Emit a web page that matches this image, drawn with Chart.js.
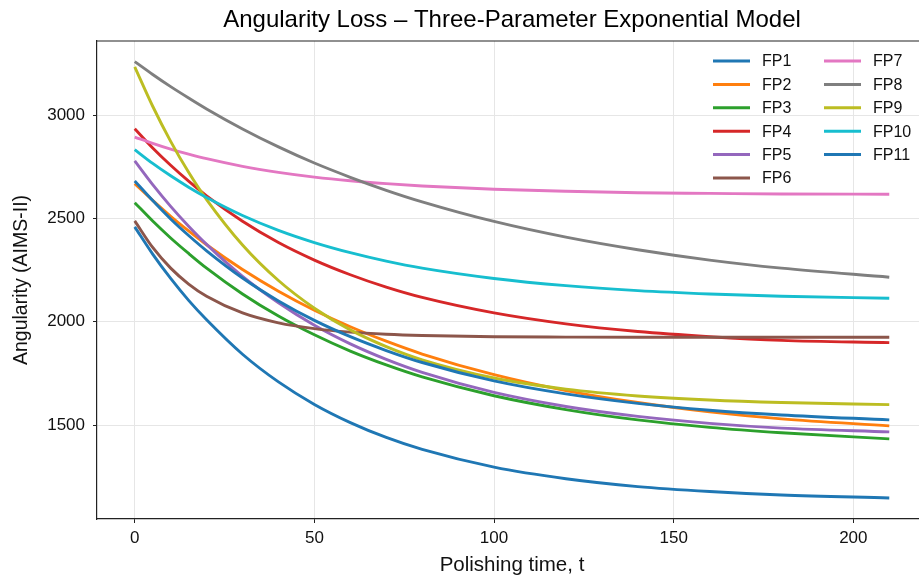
<!DOCTYPE html>
<html>
<head>
<meta charset="utf-8">
<script src="https://cdn.jsdelivr.net/npm/chart.js@4"></script>
<style>
html, body { margin: 0; padding: 0; overflow: hidden; background: #fff; width: 919px; height: 579px; }
#wrap { width: 940px; height: 579px; }
</style>
</head>
<body>
<div id="wrap"><canvas id="c" width="940" height="579"></canvas></div>
<script>
// ---- data ----
const timeValues = [0, 5, 10, 15, 20, 30, 40, 50, 60, 70, 80, 100, 120, 140, 160, 180, 210];
const seriesNames = ["FP1","FP2","FP3","FP4","FP5","FP6","FP7","FP8","FP9","FP10","FP11"];
const fp1  = [2460, 2328, 2210, 2104, 2010, 1843, 1709, 1600, 1512, 1440, 1382, 1296, 1240, 1202, 1178, 1161, 1147];
const fp2  = [2669, 2588, 2511, 2440, 2373, 2253, 2148, 2056, 1976, 1906, 1844, 1744, 1667, 1609, 1564, 1530, 1496];
const fp3  = [2577, 2488, 2406, 2331, 2260, 2135, 2028, 1937, 1858, 1791, 1733, 1642, 1575, 1525, 1489, 1463, 1433];
const fp4  = [2935, 2842, 2758, 2681, 2610, 2487, 2384, 2299, 2228, 2168, 2118, 2043, 1990, 1953, 1928, 1910, 1899];
const fp5  = [2779, 2664, 2559, 2463, 2375, 2220, 2092, 1983, 1893, 1818, 1755, 1658, 1590, 1542, 1508, 1485, 1467];
const fp6  = [2489, 2360, 2260, 2183, 2124, 2043, 1995, 1967, 1950, 1940, 1934, 1928, 1926, 1925, 1925, 1925, 1925];
const fp7  = [2895, 2864, 2836, 2812, 2790, 2753, 2724, 2701, 2683, 2669, 2658, 2642, 2632, 2625, 2622, 2619, 2618];
const fp8  = [3260, 3198, 3139, 3084, 3031, 2934, 2847, 2769, 2700, 2637, 2581, 2486, 2410, 2349, 2299, 2260, 2216];
const fp9  = [3235, 3044, 2874, 2724, 2592, 2372, 2200, 2066, 1961, 1880, 1816, 1728, 1674, 1641, 1621, 1609, 1599];
const fp10 = [2834, 2767, 2707, 2652, 2602, 2515, 2443, 2384, 2335, 2294, 2260, 2210, 2175, 2151, 2135, 2124, 2114];
const fp11 = [2682, 2587, 2498, 2418, 2344, 2212, 2101, 2007, 1928, 1861, 1803, 1714, 1651, 1605, 1572, 1549, 1525];
const xTickValues = [0, 50, 100, 150, 200];
const yTickValues = [1500, 2000, 2500, 3000];

// ---- styling ----
const seriesValues = [fp1, fp2, fp3, fp4, fp5, fp6, fp7, fp8, fp9, fp10, fp11];
const colors = ["#1f77b4","#ff7f0e","#2ca02c","#d62728","#9467bd","#8c564b","#e377c2","#7f7f7f","#bcbd22","#17becf","#1f77b4"];
const FONT = '"Liberation Sans", Arial, Helvetica, sans-serif';

const datasets = seriesNames.map((name, i) => ({
  label: name,
  data: timeValues.map((t, k) => ({ x: t, y: seriesValues[i][k] })),
  borderColor: colors[i],
  backgroundColor: colors[i],
  borderWidth: 2.9,
  pointRadius: 0,
  fill: false,
  cubicInterpolationMode: 'monotone',
  order: seriesNames.length - i
}));

const framePlugin = {
  id: 'frameAndText',
  afterDraw(chart) {
    const { ctx, chartArea } = chart;
    ctx.save();
    // top spine
    ctx.strokeStyle = '#222';
    ctx.lineWidth = 1.2;
    ctx.beginPath();
    ctx.moveTo(chartArea.left, chartArea.top);
    ctx.lineTo(chartArea.right, chartArea.top);
    ctx.stroke();
    // title
    ctx.fillStyle = '#000';
    ctx.font = '24px ' + FONT;
    ctx.textAlign = 'center';
    ctx.textBaseline = 'middle';
    ctx.fillText('Angularity Loss \u2013 Three-Parameter Exponential Model', (chartArea.left + chartArea.right) / 2, 20);
    // legend (two columns)
    ctx.font = '16px ' + FONT;
    ctx.textAlign = 'left';
    chart.data.datasets.forEach((ds, i) => {
      const col = i < 6 ? 0 : 1;
      const row = i < 6 ? i : i - 6;
      const x0 = col === 0 ? 713 : 824;
      const y = 61 + row * 23.4;
      ctx.strokeStyle = ds.borderColor;
      ctx.lineWidth = 3;
      ctx.beginPath();
      ctx.moveTo(x0, y);
      ctx.lineTo(x0 + 37, y);
      ctx.stroke();
      ctx.fillStyle = '#111';
      ctx.fillText(ds.label, x0 + 49, y + 1);
    });
    ctx.restore();
  }
};

new Chart(document.getElementById('c'), {
  type: 'line',
  data: { datasets },
  options: {
    responsive: false,
    animation: false,
    devicePixelRatio: 1,
    layout: { padding: { top: 41, right: 13, left: 0, bottom: 0 } },
    plugins: { legend: { display: false }, tooltip: { enabled: false }, title: { display: false } },
    scales: {
      x: {
        type: 'linear',
        min: -10.5,
        max: 220.5,
        afterBuildTicks: (s) => { s.ticks = xTickValues.map(v => ({ value: v })); },
        afterFit: (s) => { s.height = 60; },
        grid: { color: '#e6e6e6', lineWidth: 1, tickColor: '#222', tickLength: 4, tickWidth: 1 },
        border: { display: true, color: '#222', width: 1.2 },
        ticks: { color: '#111', font: { family: FONT, size: 17 }, padding: 5, maxRotation: 0, callback: (v) => String(v) },
        title: { display: true, text: 'Polishing time, t', color: '#111', font: { family: FONT, size: 20.5 }, padding: { top: 0, bottom: 1 } }
      },
      y: {
        type: 'linear',
        min: 1045,
        max: 3360,
        afterBuildTicks: (s) => { s.ticks = yTickValues.map(v => ({ value: v })); },
        afterFit: (s) => { s.width = 97; },
        grid: { color: '#e6e6e6', lineWidth: 1, tickColor: '#222', tickLength: 4, tickWidth: 1 },
        border: { display: true, color: '#222', width: 1.2 },
        ticks: { color: '#111', font: { family: FONT, size: 17 }, padding: 8, callback: (v) => String(v) },
        title: { display: true, text: 'Angularity (AIMS-II)', color: '#111', font: { family: FONT, size: 19.5 }, padding: { top: 10, bottom: 0 } }
      }
    }
  },
  plugins: [framePlugin]
});
</script>
</body>
</html>
